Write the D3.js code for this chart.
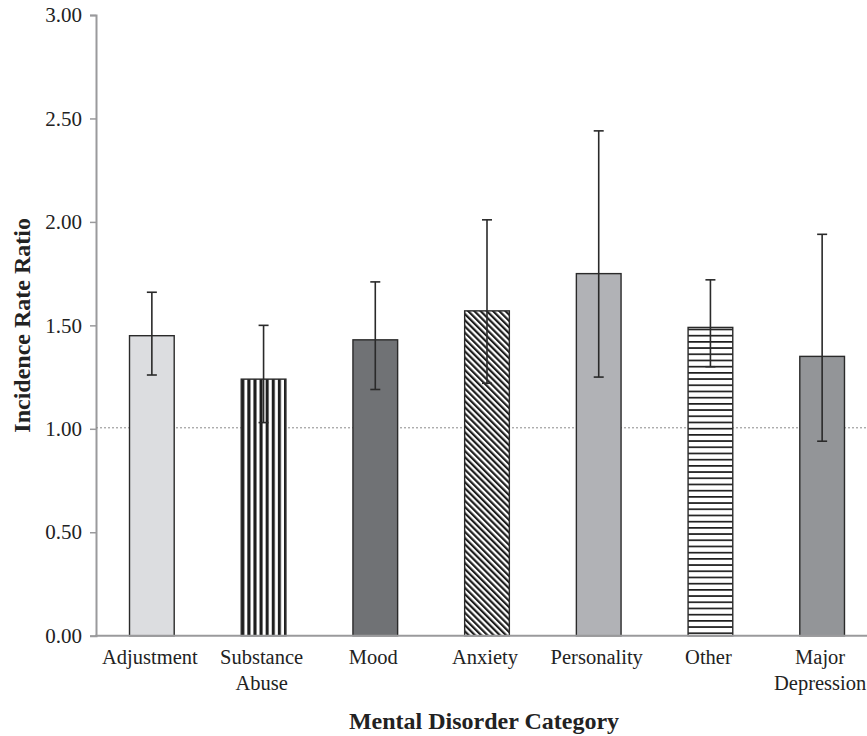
<!DOCTYPE html>
<html>
<head>
<meta charset="utf-8">
<script src="https://cdn.jsdelivr.net/npm/d3@7"></script>
<style>
  html, body { margin: 0; padding: 0; background: #fff; }
  svg { display: block; }
  text { font-family: "Liberation Serif", "Times New Roman", serif; fill: #222; }
</style>
</head>
<body>
<svg id="chart" width="867" height="736"></svg>
<script>
// ---- data ----
const categories = ["Adjustment", "Substance\nAbuse", "Mood", "Anxiety", "Personality", "Other", "Major\nDepression"];
const irr        = [1.45, 1.24, 1.43, 1.57, 1.75, 1.49, 1.35];
const ciLower    = [1.26, 1.03, 1.19, 1.22, 1.25, 1.30, 0.94];
const ciUpper    = [1.66, 1.50, 1.71, 2.01, 2.44, 1.72, 1.94];
const yTicks     = [0, 0.5, 1.0, 1.5, 2.0, 2.5, 3.0];
const referenceValue = 1.0;
const fills = ["#dcdde0", "url(#vstripe)", "#707275", "url(#dstripe)", "#b1b2b6", "url(#hstripe)", "#939598"];

(function () {
const svg = d3.select("#chart");
const W = 867;
const mLeft = 96, mRight = 878, mTop = 15, mBottom = 635.7;

const x = d3.scaleBand().domain(categories).range([mLeft, mRight]).paddingInner(0.6).paddingOuter(0.3);
const y = d3.scaleLinear().domain([0, 3]).range([mBottom, mTop]);

// patterns
const defs = svg.append("defs");
const pv = defs.append("pattern").attr("id", "vstripe").attr("patternUnits", "userSpaceOnUse")
  .attr("x", x(categories[1])).attr("width", 6.1).attr("height", 10);
pv.append("rect").attr("width", 6.1).attr("height", 10).attr("fill", "#fff");
pv.append("rect").attr("x", 0).attr("width", 3.1).attr("height", 10).attr("fill", "#1e1e1e");

const pd = defs.append("pattern").attr("id", "dstripe").attr("patternUnits", "userSpaceOnUse")
  .attr("width", 4.4).attr("height", 10).attr("patternTransform", "rotate(-45)");
pd.append("rect").attr("width", 4.4).attr("height", 10).attr("fill", "#fff");
pd.append("rect").attr("width", 2.2).attr("height", 10).attr("fill", "#1e1e1e");

const ph = defs.append("pattern").attr("id", "hstripe").attr("patternUnits", "userSpaceOnUse")
  .attr("y", 0).attr("width", 10).attr("height", 6.2);
ph.append("rect").attr("width", 10).attr("height", 6.2).attr("fill", "#fff");
ph.append("rect").attr("y", 0).attr("width", 10).attr("height", 1.7).attr("fill", "#1e1e1e");

// y axis
const yAxis = d3.axisLeft(y).tickValues(yTicks).tickFormat(d3.format(".2f")).tickSize(6).tickPadding(8);
const gy = svg.append("g").attr("transform", `translate(${mLeft},0)`).call(yAxis);
gy.select(".domain").attr("stroke", "#9a9a9c").attr("stroke-width", 2);
gy.selectAll(".tick line").attr("stroke", "#9a9a9c").attr("stroke-width", 1.5);
gy.selectAll(".tick text").style("font-size", "21px").attr("fill", "#222")
  .style("font-family", '"Liberation Serif", serif');

// reference line
svg.append("line")
  .attr("x1", mLeft).attr("x2", W).attr("y1", y(referenceValue) - 1).attr("y2", y(referenceValue) - 1)
  .attr("stroke", "#8a8a8a").attr("stroke-width", 1).attr("stroke-dasharray", "2,2");

// bars
svg.append("g").selectAll("rect").data(categories).join("rect")
  .attr("x", d => x(d)).attr("width", x.bandwidth())
  .attr("y", (d, i) => y(irr[i])).attr("height", (d, i) => y(0) - y(irr[i]))
  .attr("fill", (d, i) => fills[i]).attr("stroke", "#2a2a2a").attr("stroke-width", 1.4);

// error bars
const eg = svg.append("g").attr("stroke", "#2a2a2a").attr("stroke-width", 1.6);
categories.forEach((c, i) => {
  const cx = x(c) + x.bandwidth() / 2;
  eg.append("line").attr("x1", cx).attr("x2", cx).attr("y1", y(ciUpper[i])).attr("y2", y(ciLower[i]));
  eg.append("line").attr("x1", cx - 5).attr("x2", cx + 5).attr("y1", y(ciUpper[i])).attr("y2", y(ciUpper[i]));
  eg.append("line").attr("x1", cx - 5).attr("x2", cx + 5).attr("y1", y(ciLower[i])).attr("y2", y(ciLower[i]));
});

// x axis
const xAxis = d3.axisBottom(x).tickSize(0).tickPadding(0);
const gx = svg.append("g").attr("transform", `translate(0,${mBottom})`).call(xAxis);
gx.select(".domain").remove();
svg.append("line").attr("x1", mLeft - 1).attr("x2", W).attr("y1", mBottom).attr("y2", mBottom)
  .attr("stroke", "#9a9a9c").attr("stroke-width", 2);
gx.selectAll(".tick text").each(function(d) {
  const t = d3.select(this);
  t.text(null).attr("y", 0).attr("dy", null).style("font-size", "20.5px").attr("fill", "#222")
   .style("font-family", '"Liberation Serif", serif');
  d.split("\n").forEach((line, k) => {
    t.append("tspan").attr("x", -2).attr("y", 28 + k * 26).text(line);
  });
});

// axis titles
svg.append("text")
  .attr("transform", `translate(30,${(mTop + mBottom) / 2}) rotate(-90)`)
  .attr("text-anchor", "middle").style("font-size", "24px").style("font-weight", "bold")
  .text("Incidence Rate Ratio");
svg.append("text")
  .attr("x", 484).attr("y", 729)
  .attr("text-anchor", "middle").style("font-size", "24px").style("font-weight", "bold")
  .text("Mental Disorder Category");
})();
</script>
</body>
</html>
